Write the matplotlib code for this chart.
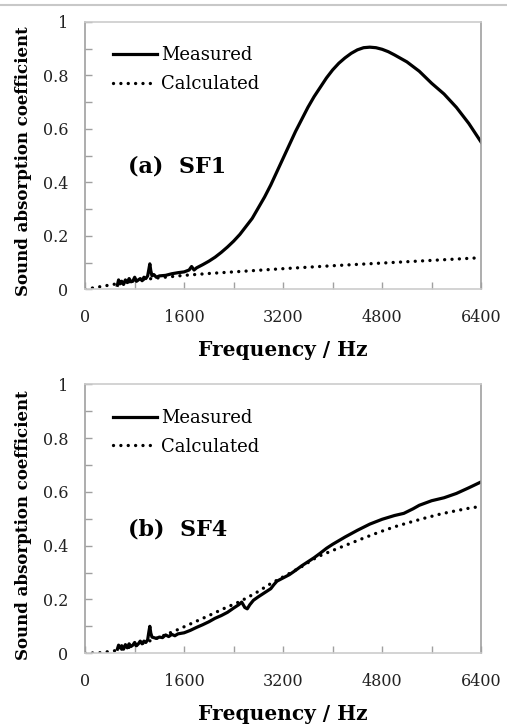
import numpy as np
import matplotlib
matplotlib.use('Agg')
import matplotlib.pyplot as plt
from matplotlib.lines import Line2D
from matplotlib.ticker import MultipleLocator


plt.rcParams['font.family'] = ['DejaVu Serif']

# (a) SF1
freq_a = [520, 540, 560, 590, 620, 650, 680, 710, 740, 770, 800, 830, 860, 890, 920, 950, 980,
          1010, 1030, 1045, 1060, 1080, 1110, 1150, 1200, 1300, 1400, 1500, 1600, 1680, 1720,
          1760, 1800, 1900, 2000, 2100, 2200, 2300, 2400, 2500, 2600, 2700, 2800, 2900, 3000,
          3100, 3200, 3300, 3400, 3500, 3600, 3700, 3800, 3900, 4000, 4100, 4200, 4300, 4400,
          4500, 4600, 4700, 4800, 4900, 5000, 5200, 5400, 5600, 5800, 6000, 6200, 6400]
meas_a = [0.015, 0.035, 0.02, 0.03, 0.018, 0.035, 0.025, 0.04, 0.028, 0.03, 0.045, 0.03, 0.035,
          0.04, 0.032, 0.045, 0.04, 0.05, 0.075, 0.095, 0.07, 0.05, 0.055, 0.045, 0.05, 0.052,
          0.058, 0.062, 0.065, 0.072, 0.085, 0.072, 0.08, 0.092, 0.105, 0.12, 0.138, 0.158, 0.18,
          0.205, 0.235, 0.265, 0.305, 0.345, 0.39, 0.44, 0.49, 0.54, 0.59, 0.635, 0.68, 0.72,
          0.755, 0.79, 0.82, 0.845, 0.865, 0.882, 0.895, 0.903, 0.905, 0.903, 0.897, 0.888,
          0.876, 0.85, 0.815, 0.77, 0.73, 0.68, 0.62, 0.55]
calc_freq_a = [0, 200, 400, 600, 800, 1000, 1200, 1600, 2000, 2400, 3200, 4000, 4800, 5600, 6400]
calc_a = [0, 0.008, 0.016, 0.024, 0.031, 0.038, 0.043, 0.052, 0.059, 0.065, 0.077, 0.088,
          0.098, 0.108, 0.118]

# (b) SF4
freq_b = [520, 540, 560, 590, 620, 650, 680, 710, 740, 770, 800, 830, 860, 890, 920, 950, 980,
          1010, 1030, 1045, 1060, 1080, 1110, 1150, 1200, 1250, 1300, 1350, 1400, 1450, 1500,
          1600, 1700, 1800, 1900, 2000, 2100, 2200, 2300, 2400, 2480, 2530, 2580, 2620, 2660,
          2720, 2800, 2900, 3000, 3050, 3100, 3200, 3300, 3400, 3500, 3600, 3700, 3800, 3900,
          4000, 4200, 4400, 4600, 4800, 5000, 5150, 5300, 5400, 5600, 5800, 6000, 6200, 6400]
meas_b = [0.015, 0.03, 0.02, 0.028, 0.015, 0.032, 0.02, 0.035, 0.025, 0.03, 0.04, 0.028, 0.035,
          0.045, 0.035, 0.045, 0.04, 0.05, 0.08, 0.10, 0.075, 0.06, 0.058, 0.055, 0.06, 0.058,
          0.068, 0.062, 0.07, 0.065, 0.072, 0.076, 0.085, 0.096, 0.106, 0.117, 0.13, 0.14,
          0.152, 0.168, 0.18, 0.19, 0.17, 0.165, 0.18, 0.197, 0.21, 0.225, 0.24, 0.255, 0.268,
          0.28, 0.292, 0.308, 0.325, 0.34, 0.355, 0.372, 0.39, 0.405, 0.432, 0.457, 0.48,
          0.498, 0.512, 0.52, 0.537, 0.55, 0.567, 0.578, 0.594, 0.615, 0.637]
calc_freq_b = [0, 250, 500, 750, 1000, 1250, 1500, 1750, 2000, 2250, 2500, 2750, 3000, 3250,
               3500, 3750, 4000, 4250, 4500, 4750, 5000, 5250, 5500, 5750, 6000, 6200, 6400]
calc_b = [0, 0.002, 0.01, 0.024, 0.042, 0.064, 0.088, 0.114, 0.14, 0.167, 0.192, 0.223, 0.259,
          0.29, 0.322, 0.358, 0.382, 0.405, 0.428, 0.45, 0.47, 0.487, 0.503, 0.518, 0.53,
          0.539, 0.546]

panels = [(freq_a, meas_a, calc_freq_a, calc_a, '(a)  SF1'),
          (freq_b, meas_b, calc_freq_b, calc_b, '(b)  SF4')]
xticks = [0, 1600, 3200, 4800, 6400]
yticks = [0, 0.2, 0.4, 0.6, 0.8, 1]
ytick_labels = ['0', '0.2', '0.4', '0.6', '0.8', '1']

fig = plt.figure(figsize=(5.07, 7.25), dpi=100)
boxes = [[0.168, 0.601, 0.781, 0.369], [0.168, 0.099, 0.781, 0.371]]

for box, (f, m, cf, c, tag) in zip(boxes, panels):
    ax = fig.add_axes(box)
    ax.plot(f, m, color='black', lw=2.3, label='Measured')
    ax.plot(cf, c, color='black', lw=2.4, linestyle=(0, (0.01, 2.2)),
            dash_capstyle='round', label='Calculated')
    ax.set_xlim(0, 6400)
    ax.set_ylim(0, 1)
    ax.set_xticks(xticks)
    ax.set_yticks(yticks)
    ax.set_yticklabels(ytick_labels)
    ax.xaxis.set_minor_locator(MultipleLocator(800))
    ax.yaxis.set_minor_locator(MultipleLocator(0.1))
    ax.tick_params(which='both', direction='in', color='#a0a0a0', width=1, length=5)
    ax.tick_params(axis='x', which='major', pad=14, labelsize=11.5, labelcolor='#222222')
    ax.tick_params(axis='y', which='major', pad=12, labelsize=11.5, labelcolor='#222222')
    ax.tick_params(top=False, right=False)
    for side in ['left', 'right']:
        ax.spines[side].set_color('#a0a0a0')
        ax.spines[side].set_linewidth(1.2)
    for side in ['top', 'bottom']:
        ax.spines[side].set_color('#cccccc')
        ax.spines[side].set_linewidth(1.2)
    ax.set_xlabel('Frequency / Hz', fontsize=14.5, fontweight='bold')
    ax.xaxis.set_label_coords(0.5, -0.19)
    ax.set_ylabel('Sound absorption coefficient', fontsize=12, fontweight='bold')
    ax.yaxis.set_label_coords(-0.135, 0.478)
    ax.text(700, 0.46, tag, fontsize=16, fontweight='bold', va='center')
    ax.legend(loc='upper left', bbox_to_anchor=(0.053, 0.935), frameon=False, fontsize=13,
              handlelength=2.4, handletextpad=0.25, labelspacing=0.6, borderaxespad=0)

fig.add_artist(Line2D([0, 1], [1 - 5 / 725, 1 - 5 / 725], color='#c8c8c8', lw=1.5))

fig.savefig('out.png', dpi=100)
